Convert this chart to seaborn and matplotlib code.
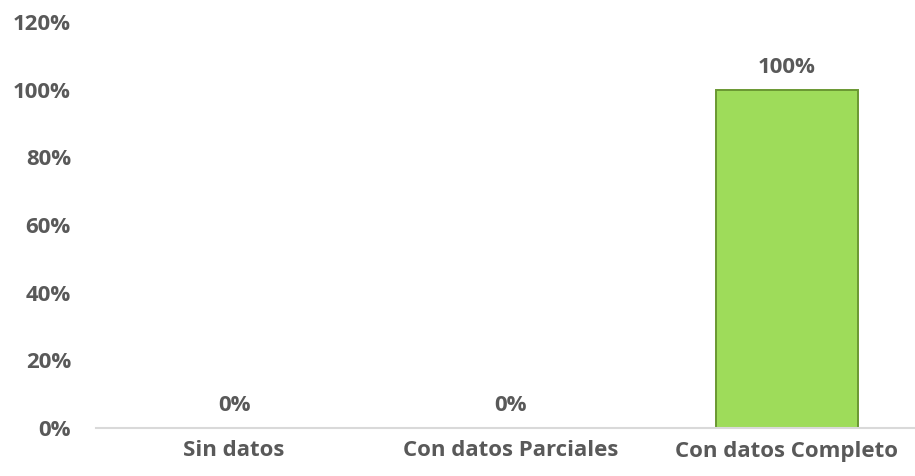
import matplotlib
matplotlib.use("Agg")
import matplotlib.pyplot as plt
import seaborn as sns
import pandas as pd

categories = ["Sin datos", "Con datos Parciales", "Con datos Completo"]
values = [0.0, 0.0, 1.0]
value_labels = ["0%", "0%", "100%"]
y_ticks = [0.0, 0.2, 0.4, 0.6, 0.8, 1.0, 1.2]
y_tick_labels = ["0%", "20%", "40%", "60%", "80%", "100%", "120%"]

sns.set_theme(style="white")
plt.rcParams["font.family"] = ["Open Sans", "DejaVu Sans"]

df = pd.DataFrame({"categoria": categories, "valor": values})

fig = plt.figure(figsize=(9.15, 4.76), dpi=100)
ax = fig.add_axes([96 / 915, 48 / 476, 829 / 915, 406 / 476])

text_color = "#595959"
fs = 16
sns.barplot(data=df, x="categoria", y="valor", color="#9edc5a",
            width=0.515, edgecolor="#6a9832", linewidth=1.4,
            saturation=1, ax=ax)

for i, (v, lab) in enumerate(zip(values, value_labels)):
    ax.text(i, v + 0.035, lab, ha="center", va="bottom",
            fontsize=fs, fontweight="bold", color=text_color)

ax.set_ylim(0, 1.2)
ax.set_yticks(y_ticks)
ax.set_yticklabels(y_tick_labels)
ax.set_xlabel("")
ax.set_ylabel("")

ax.tick_params(axis="y", length=0, pad=18, labelsize=fs, labelcolor=text_color)
ax.tick_params(axis="x", length=0, pad=9, labelsize=fs, labelcolor=text_color)
for lab in ax.get_xticklabels() + ax.get_yticklabels():
    lab.set_fontweight("bold")

for side in ["top", "right", "left"]:
    ax.spines[side].set_visible(False)
ax.spines["bottom"].set_color("#d9d9d9")
ax.spines["bottom"].set_linewidth(1.5)

fig.savefig("out.png", dpi=100)
